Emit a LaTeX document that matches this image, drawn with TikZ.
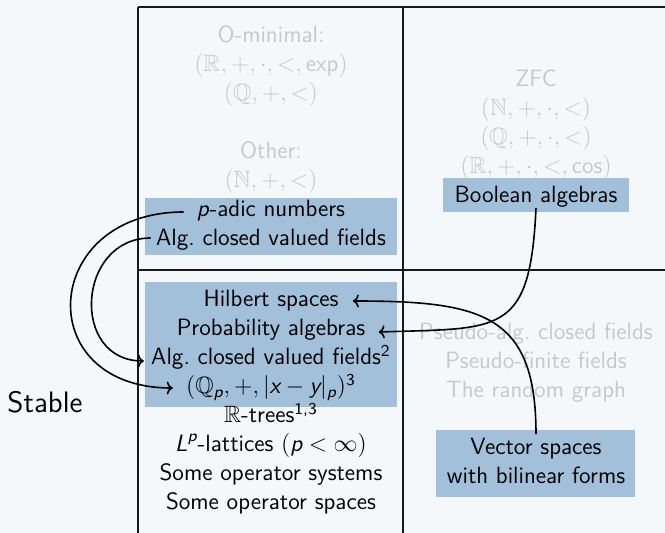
\documentclass[tikz,border=0pt]{standalone}
\usepackage{amsmath,amssymb}
\usetikzlibrary{arrows.meta}

\definecolor{slidebg}{RGB}{245,248,251}
\definecolor{boxblue}{RGB}{163,192,218}
\definecolor{faintgray}{RGB}{200,200,200}
\definecolor{inkline}{RGB}{25,25,25}

% sans-serif italic letters for variables, upright sans for operators
\newcommand\sv[1]{\textsf{\itshape #1}}
\newcommand\sop[1]{\textsf{#1}}

\tikzset{
  txt/.style={anchor=base, inner sep=0pt, font=\sffamily\fontsize{11.8}{14}\selectfont},
  faint/.style={text=faintgray},
  bluebox/.style={fill=boxblue, draw=none, inner sep=0pt},
  gridline/.style={draw=inkline, line width=0.8pt},
  conn/.style={draw=black, line width=0.8pt, -{To[length=3pt,width=6.5pt]}},
}

\begin{document}
\begin{tikzpicture}[x=0.5pt, y=-0.5pt]
  \useasboundingbox (0,0) rectangle (665,533);
  \fill[slidebg] (0,0) rectangle (665,533);

  % highlighted groups
  \node[bluebox, minimum width=126pt, minimum height=28.5pt] (boxTL) at (271,226.5) {};
  \node[bluebox, minimum width=93pt, minimum height=17pt] (boxTR) at (536,195) {};
  \node[bluebox, minimum width=126pt, minimum height=62.5pt] (boxBL) at (271,344.5) {};
  \node[bluebox, minimum width=99.5pt, minimum height=33.5pt] (boxBR) at (535.5,463.5) {};

  % table rules
  \draw[gridline] (138,7) -- (138,533);
  \draw[gridline] (403,7) -- (403,533);
  \draw[gridline] (138,7) -- (665,7);
  \draw[gridline] (138,270) -- (665,270);

  % top-left cell
  \node[txt, faint] (omin)  at (271,43)  {O-minimal:};
  \node[txt, faint] (rexp)  at (271,72)  {$(\mathbb{R}, +, \cdot, <, \sop{exp})$};
  \node[txt, faint] (qlt)   at (271,101) {$(\mathbb{Q}, +, <)$};
  \node[txt, faint] (other) at (271,159) {Other:};
  \node[txt, faint] (nlt)   at (271,188) {$(\mathbb{N}, +, <)$};
  \node[txt] (padic) at (271,217) {\sv{p}-adic numbers};
  \node[txt] (acvf)  at (271,246) {Alg.\ closed valued fields};

  % top-right cell
  \node[txt, faint] (zfc)  at (536,87)  {ZFC};
  \node[txt, faint] (nring) at (536,116) {$(\mathbb{N}, +, \cdot, <)$};
  \node[txt, faint] (qring) at (536,145) {$(\mathbb{Q}, +, \cdot, <)$};
  \node[txt, faint] (rcos)  at (536,174) {$(\mathbb{R}, +, \cdot, <, \sop{cos})$};
  \node[txt] (bool) at (536,203) {Boolean algebras};

  % bottom-left cell
  \node[txt] (hilb)  at (271,307) {Hilbert spaces};
  \node[txt] (prob)  at (271,336) {Probability algebras};
  \node[txt] (acvfb) at (271,365) {Alg.\ closed valued fields$^{\sop{2}}$};
  \node[txt] (qp)    at (271,394) {$(\mathbb{Q}_{\sv{p}}, +, |\sv{x} - \sv{y}|_{\sv{p}})^{\sop{3}}$};
  \node[txt] (rtree) at (271,423) {$\mathbb{R}$-trees$^{\sop{1,3}}$};
  \node[txt] (lp)    at (271,452) {$\sv{L}^{\sv{p}}$-lattices $(\sv{p} < \infty)$};
  \node[txt] (opsys) at (271,481) {Some operator systems};
  \node[txt] (opsp)  at (271,510) {Some operator spaces};

  % bottom-right cell
  \node[txt, faint] (pac)  at (536,340) {Pseudo-alg.\ closed fields};
  \node[txt, faint] (psf)  at (536,369) {Pseudo-finite fields};
  \node[txt, faint] (rgr)  at (536,398) {The random graph};
  \node[txt] (vec1) at (536,455) {Vector spaces};
  \node[txt] (vec2) at (536,484) {with bilinear forms};

  % row label
  \node[anchor=base, inner sep=0pt, font=\sffamily\fontsize{14.8}{17}\selectfont] (stable) at (45,413) {Stable};

  % connectors
  \draw[conn] ([shift={(-6.5pt,2.5pt)}]padic.base west)
    .. controls +(-143,0) and +(-143,0) .. ([shift={(-6.5pt,3pt)}]qp.base west);
  \draw[conn] ([shift={(-2.5pt,4pt)}]acvf.base west)
    .. controls +(-74,0) and +(-74,0) .. ([shift={(-3.5pt,2pt)}]acvfb.base west);
  \draw[conn] (bool.south)
    .. controls +(-6,128) and +(122,-4) .. ([shift={(6.5pt,2pt)}]prob.base east);
  \draw[conn] ([yshift=2pt]vec1.north)
    .. controls +(0,-120) and +(130,0) .. ([shift={(7pt,3pt)}]hilb.base east);
\end{tikzpicture}
\end{document}
